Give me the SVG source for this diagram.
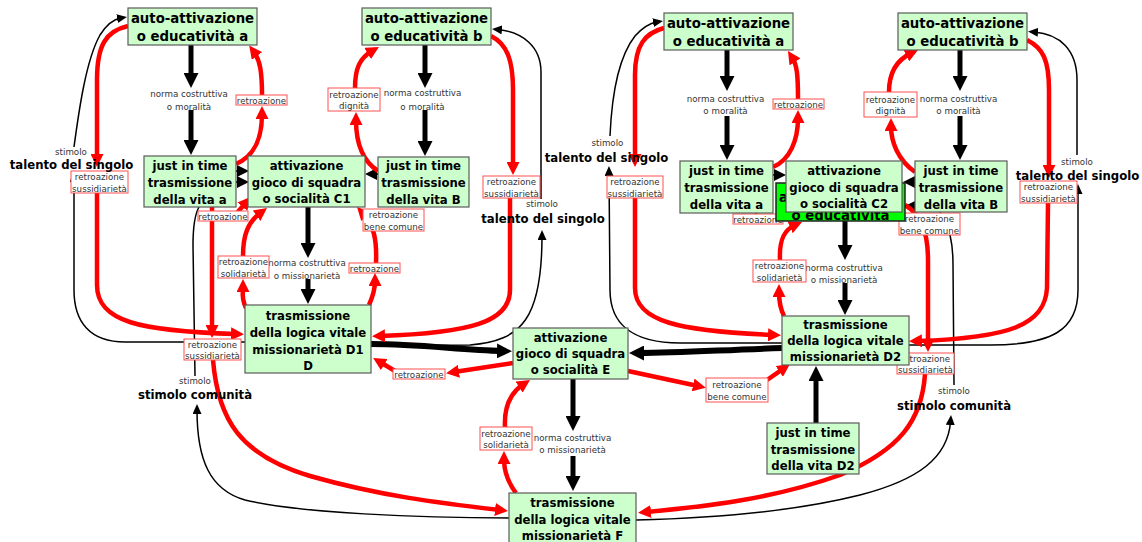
<svg xmlns="http://www.w3.org/2000/svg" width="1142" height="542" viewBox="0 0 1142 542">
<style>
  .node rect { fill: #ccffcc; stroke: #5a5a5a; stroke-width: 1.2; }
  .node.hot rect { fill: #00ff00; stroke: #222; stroke-width: 1.5; }
  .nt { font-family: "DejaVu Sans", Verdana, sans-serif; font-weight: bold; font-size: 11.7px; text-anchor: middle; fill: #000; }
  .nt.big { font-size: 13.3px; }
  .free { font-family: "DejaVu Sans", Verdana, sans-serif; font-weight: bold; font-size: 11.7px; text-anchor: middle; fill: #000; }
  .st { font-family: "DejaVu Sans", Verdana, sans-serif; font-size: 8.7px; text-anchor: middle; fill: #333; }
  .lbl rect { fill: #fff; stroke: #ff5050; stroke-width: 1; }
  .red { fill: none; stroke: #ff0000; stroke-width: 4.5; marker-end: url(#mR); }
  .blk { fill: none; stroke: #000; stroke-width: 5; marker-end: url(#mK); }
  .blk6 { fill: none; stroke: #000; stroke-width: 6; marker-end: url(#mK); }
  .thin { fill: none; stroke: #000; stroke-width: 1.5; marker-end: url(#mT); }
  .thin0 { fill: none; stroke: #000; stroke-width: 1.5; }
  .sm { fill: none; stroke: #000; stroke-width: 2; marker-end: url(#mS); }
</style>
<defs>
  <marker id="mR" markerUnits="userSpaceOnUse" markerWidth="13" markerHeight="13" refX="5" refY="6.5" orient="auto">
    <path d="M0,0 L13,6.5 L0,13 z" fill="#ff0000"/>
  </marker>
  <marker id="mK" markerUnits="userSpaceOnUse" markerWidth="15" markerHeight="15" refX="5" refY="7.5" orient="auto">
    <path d="M0,0 L15,7.5 L0,15 z" fill="#000"/>
  </marker>
  <marker id="mT" markerUnits="userSpaceOnUse" markerWidth="10" markerHeight="9" refX="4" refY="4.5" orient="auto">
    <path d="M0,0 L10,4.5 L0,9 z" fill="#000"/>
  </marker>
  <marker id="mS" markerUnits="userSpaceOnUse" markerWidth="12" markerHeight="12" refX="6" refY="6" orient="auto">
    <path d="M0,0 L12,6 L0,12 z" fill="#000"/>
  </marker>
</defs>
<rect width="1142" height="542" fill="#fff"/>

<g id="connectors">
  <!-- thin black: stimolo links -->
  <path class="thin" d="M245,342 L125,342 C90,342 74,322 74,290 L74,178"/>
  <path class="thin" d="M74,147 C79,110 86,60 100,35 C107,24 115,19 121,18"/>
  <path class="thin" d="M372,346 L470,345 C522,341 542,318 542,236"/>
  <path class="thin" d="M541,199 L541,72 C541,46 522,32 498,29.5"/>
  <path class="thin0" d="M199,207 C194,216 193,228 193,245 L195,376"/>
  <path class="thin" d="M509,518 C420,518 300,513 245,500 C210,490 197,460 197,410"/>
  <path class="thin" d="M782,343 L680,343 C630,343 610,322 610,290 L609,172"/>
  <path class="thin" d="M610,136 C612,90 620,55 635,36 C643,27 651,23 657,22"/>
  <path class="thin" d="M909,345 L990,345 C1052,345 1078,330 1078,290 L1078,190"/>
  <path class="thin" d="M1077,155 L1077,80 C1077,50 1060,34 1034,32"/>
  <path class="thin0" d="M940,212 C950,228 953,243 953,265 L954,385"/>
  <path class="thin" d="M636,520 C720,518 800,510 860,495 C918,480 948,458 950.6,421"/>

  <!-- thick black: norma links and flows into E -->
  <path class="blk" d="M191,45 L191,78"/>
  <path class="blk" d="M191,110 L191,145"/>
  <path class="blk" d="M425,45 L425,78"/>
  <path class="blk" d="M425,110 L425,146"/>
  <path class="blk" d="M308,207 L308,248"/>
  <path class="blk" d="M308,279 L308,294"/>
  <path class="blk" d="M727,50 L727,81"/>
  <path class="blk" d="M727,116 L727,150"/>
  <path class="blk" d="M960,50 L960,81"/>
  <path class="blk" d="M960,116 L960,150"/>
  <path class="blk" d="M845,221 L845,250"/>
  <path class="blk" d="M845,283 L845,305"/>
  <path class="blk" d="M573,379 L573,421"/>
  <path class="blk" d="M573,456 L573,481"/>
  <path class="blk" d="M816,423 L816,376"/>
  <path class="blk6" d="M371,344 C420,344 460,350 502,351"/>
  <path class="blk6" d="M782,348 C720,350 680,353 639,353"/>

  <!-- small black arrows into the C nodes -->
  <path class="sm" d="M236,171 L243,171"/>
  <path class="sm" d="M236,182 L243,182"/>
  <path class="sm" d="M378,174 L371,174"/>
  <path class="sm" d="M773,175 L780,175"/>
  <path class="sm" d="M915,182 L909,182"/>
  <path class="sm" d="M915,206 L911,206"/>

  <!-- red feedback links, left cluster -->
  <path class="red" d="M236,164 C254,156 262,140 262,114"/>
  <path class="red" d="M262,95 C262,72 260,60 254,52"/>
  <path class="red" d="M128,26 C106,31 97,45 97,80 L97,159"/>
  <path class="red" d="M97,193 L97,285 C97,322 140,331 236,334"/>
  <path class="red" d="M491,36 C507,44 513,60 513,90 L513,167"/>
  <path class="red" d="M510,198 L510,290 C510,322 470,333 380,336"/>
  <path class="red" d="M378,171 C361,160 356,140 356,120"/>
  <path class="red" d="M355,88 C355,68 360,58 372,51"/>
  <path class="red" d="M369,305 C373,296 375,290 375,281"/>
  <path class="red" d="M376,263 C377,240 374,225 362.5,212.8"/>
  <path class="red" d="M246,308 C241,298 243,292 243,287"/>
  <path class="red" d="M243,256 C243,235 248,222 260.6,212.7"/>
  <path class="red" d="M236,214 L245.6,202.9"/>
  <path class="red" d="M212,207 L212,330"/>
  <path class="red" d="M213,360 C218,420 240,455 310,476 C380,496 440,503 500,510"/>

  <!-- red feedback links, right cluster -->
  <path class="red" d="M773,167 C790,160 798,140 798,118"/>
  <path class="red" d="M798,99 C798,75 797,65 792.3,57.7"/>
  <path class="red" d="M664,28 C645,33 635,45 635,75 L635,159"/>
  <path class="red" d="M635,198 L635,288 C635,322 680,331 773,335"/>
  <path class="red" d="M915,172 C898,160 891,142 891,126"/>
  <path class="red" d="M889,92 C889,72 897,60 910.8,53.4"/>
  <path class="red" d="M1027,40 C1043,48 1049,60 1049,90 L1049,170"/>
  <path class="red" d="M1048,203 L1047,288 C1045,325 1010,338 917,341"/>
  <path class="red" d="M905,205 C920,214 928,230 928,260 L928,344"/>
  <path class="red" d="M925,374 C922,420 900,450 840,475 C770,500 700,507 646,512"/>
  <path class="red" d="M784,316 C779,306 779,298 779,292"/>
  <path class="red" d="M780,260 C779,240 784,230 794.7,225.3"/>
  <path class="red" d="M756,204 L756,208"/>

  <!-- red feedback links around E and F -->
  <path class="red" d="M513,363 L454,372"/>
  <path class="red" d="M395,371 L380,362"/>
  <path class="red" d="M628,371 L698,386"/>
  <path class="red" d="M767,380 L783.4,368.6"/>
  <path class="red" d="M516,493 C507,481 504,470 504,459"/>
  <path class="red" d="M505,427 C504,407 510,393 523.3,384.4"/>
</g>

<g id="link-labels">
  <text class="st" x="189" y="97">norma costruttiva</text>
  <text class="st" x="189" y="110">o moralità</text>
  <text class="st" x="422.5" y="96">norma costruttiva</text>
  <text class="st" x="422.5" y="110">o moralità</text>
  <text class="st" x="725.5" y="102">norma costruttiva</text>
  <text class="st" x="725.5" y="114">o moralità</text>
  <text class="st" x="958.5" y="102">norma costruttiva</text>
  <text class="st" x="958.5" y="114">o moralità</text>
  <text class="st" x="307" y="266">norma costruttiva</text>
  <text class="st" x="307" y="279">o missionarietà</text>
  <text class="st" x="844" y="271">norma costruttiva</text>
  <text class="st" x="844" y="283">o missionarietà</text>
  <text class="st" x="572.5" y="441">norma costruttiva</text>
  <text class="st" x="572.5" y="453">o missionarietà</text>

  <text class="st" x="71" y="155">stimolo</text>
  <text class="st" x="542" y="207">stimolo</text>
  <text class="st" x="607.5" y="146">stimolo</text>
  <text class="st" x="1077" y="165">stimolo</text>
  <text class="st" x="195" y="384">stimolo</text>
  <text class="st" x="954" y="394">stimolo</text>

  <g class="lbl" id="lbl-retro-a"><rect x="236" y="95" width="51" height="10"/><text class="st" x="261.5" y="103.5">retroazione</text></g>
  <g class="lbl" id="lbl-suss-1"><rect x="71" y="171" width="57" height="22"/><text class="st" x="99.5" y="180">retroazione</text><text class="st" x="99.5" y="191.5">sussidiarietà</text></g>
  <g class="lbl" id="lbl-dign-b"><rect x="328" y="88" width="52" height="23"/><text class="st" x="354" y="97.5">retroazione</text><text class="st" x="354" y="108.5">dignità</text></g>
  <g class="lbl" id="lbl-suss-2"><rect x="483" y="176" width="57" height="22"/><text class="st" x="511.5" y="185">retroazione</text><text class="st" x="511.5" y="196.5">sussidiarietà</text></g>
  <g class="lbl" id="lbl-retro-c1a"><rect x="198" y="211" width="50" height="10"/><text class="st" x="223" y="219.5">retroazione</text></g>
  <g class="lbl" id="lbl-bene-1"><rect x="363" y="209" width="61" height="22"/><text class="st" x="393.5" y="218">retroazione</text><text class="st" x="393.5" y="229.5">bene comune</text></g>
  <g class="lbl" id="lbl-solid-1"><rect x="218" y="256" width="51" height="22"/><text class="st" x="243.5" y="265">retroazione</text><text class="st" x="243.5" y="276.5">solidarietà</text></g>
  <g class="lbl" id="lbl-retro-c1b"><rect x="349" y="263" width="51" height="10"/><text class="st" x="374.5" y="271.5">retroazione</text></g>
  <g class="lbl" id="lbl-suss-3"><rect x="184" y="339" width="57" height="21"/><text class="st" x="212.5" y="348">retroazione</text><text class="st" x="212.5" y="359">sussidiarietà</text></g>
  <g class="lbl" id="lbl-retro-e"><rect x="393" y="369" width="52" height="10"/><text class="st" x="419" y="377.5">retroazione</text></g>
  <g class="lbl" id="lbl-bene-e"><rect x="706" y="378" width="62" height="24"/><text class="st" x="737" y="388">retroazione</text><text class="st" x="737" y="399.5">bene comune</text></g>
  <g class="lbl" id="lbl-solid-e"><rect x="480" y="427" width="52" height="23"/><text class="st" x="506" y="436.5">retroazione</text><text class="st" x="506" y="447.5">solidarietà</text></g>
  <g class="lbl" id="lbl-retro-a2"><rect x="773" y="99" width="51" height="10"/><text class="st" x="798.5" y="107.5">retroazione</text></g>
  <g class="lbl" id="lbl-suss-4"><rect x="607" y="176" width="56" height="22"/><text class="st" x="635" y="185">retroazione</text><text class="st" x="635" y="196.5">sussidiarietà</text></g>
  <g class="lbl" id="lbl-dign-b2"><rect x="864" y="92" width="53" height="25"/><text class="st" x="890.5" y="102.5">retroazione</text><text class="st" x="890.5" y="113.5">dignità</text></g>
  <g class="lbl" id="lbl-suss-5"><rect x="1020" y="181" width="57" height="22"/><text class="st" x="1048.5" y="190">retroazione</text><text class="st" x="1048.5" y="201.5">sussidiarietà</text></g>
  <g class="lbl" id="lbl-retro-c2a"><rect x="733" y="214" width="50" height="10"/><text class="st" x="758" y="222.5">retroazione</text></g>
  <g class="lbl" id="lbl-bene-2"><rect x="899" y="213" width="61" height="22"/><text class="st" x="929.5" y="222">retroazione</text><text class="st" x="929.5" y="233.5">bene comune</text></g>
  <g class="lbl" id="lbl-solid-2"><rect x="753" y="260" width="53" height="22"/><text class="st" x="779.5" y="269">retroazione</text><text class="st" x="779.5" y="280.5">solidarietà</text></g>
  <g class="lbl" id="lbl-suss-6"><rect x="897" y="353" width="57" height="21"/><text class="st" x="925.5" y="362">retroazione</text><text class="st" x="925.5" y="373">sussidiarietà</text></g>
</g>

<!-- free concepts without boxes -->
<g id="talento-1"><text class="free" x="71.5" y="169">talento del singolo</text></g>
<g id="talento-2"><text class="free" x="543" y="223">talento del singolo</text></g>
<g id="talento-3"><text class="free" x="606.5" y="162">talento del singolo</text></g>
<g id="talento-4"><text class="free" x="1077.5" y="180">talento del singolo</text></g>
<g id="comunita-1"><text class="free" x="195" y="399">stimolo comunità</text></g>
<g id="comunita-2"><text class="free" x="954" y="410">stimolo comunità</text></g>

<!-- left cluster -->
<g class="node" id="auto-a"><rect x="128" y="8" width="129" height="37"/>
  <text class="nt big" x="192.5" y="23">auto-attivazione</text><text class="nt big" x="192.5" y="41">o educatività a</text></g>
<g class="node" id="auto-b"><rect x="362" y="8" width="129" height="37"/>
  <text class="nt big" x="426.5" y="23">auto-attivazione</text><text class="nt big" x="426.5" y="41">o educatività b</text></g>
<g class="node" id="vita-a"><rect x="144" y="156" width="92" height="51"/>
  <text class="nt" x="190" y="170">just in time</text><text class="nt" x="190" y="187">trasmissione</text><text class="nt" x="190" y="204">della vita a</text></g>
<g class="node" id="c1"><rect x="248" y="156" width="117" height="51"/>
  <text class="nt" x="306.5" y="170">attivazione</text><text class="nt" x="306.5" y="187">gioco di squadra</text><text class="nt" x="306.5" y="203">o socialità C1</text></g>
<g class="node" id="vita-b"><rect x="378" y="157" width="91" height="50"/>
  <text class="nt" x="423.5" y="170">just in time</text><text class="nt" x="423.5" y="187">trasmissione</text><text class="nt" x="423.5" y="204">della vita B</text></g>
<g class="node" id="d1"><rect x="245" y="305" width="126" height="68"/>
  <text class="nt" x="308" y="320">trasmissione</text><text class="nt" x="308" y="337">della logica vitale</text><text class="nt" x="308" y="354">missionarietà D1</text><text class="nt" x="308" y="370">D</text></g>

<!-- centre -->
<g class="node" id="e"><rect x="513" y="328" width="115" height="51"/>
  <text class="nt" x="570.5" y="342">attivazione</text><text class="nt" x="570.5" y="358">gioco di squadra</text><text class="nt" x="570.5" y="374">o socialità E</text></g>
<g class="node" id="f"><rect x="509" y="493" width="127" height="55"/>
  <text class="nt" x="572.5" y="507">trasmissione</text><text class="nt" x="572.5" y="524">della logica vitale</text><text class="nt" x="572.5" y="540">missionarietà F</text></g>

<!-- right cluster -->
<g class="node" id="auto-a2"><rect x="664" y="13" width="129" height="37"/>
  <text class="nt big" x="728.5" y="28">auto-attivazione</text><text class="nt big" x="728.5" y="46">o educatività a</text></g>
<g class="node" id="auto-b2"><rect x="898" y="13" width="129" height="37"/>
  <text class="nt big" x="962.5" y="28">auto-attivazione</text><text class="nt big" x="962.5" y="46">o educatività b</text></g>
<g class="node" id="vita-a2"><rect x="680" y="161" width="93" height="52"/>
  <text class="nt" x="726.5" y="175">just in time</text><text class="nt" x="726.5" y="192">trasmissione</text><text class="nt" x="726.5" y="209">della vita a</text></g>
<g class="node hot" id="auto-c2"><rect x="776" y="183" width="129" height="38"/>
  <text class="nt big" x="840.5" y="202">auto-attivazione</text><text class="nt big" x="840.5" y="220">o educatività</text></g>
<g class="node" id="c2"><rect x="786" y="161" width="116" height="51"/>
  <text class="nt" x="844" y="175">attivazione</text><text class="nt" x="844" y="192">gioco di squadra</text><text class="nt" x="844" y="208">o socialità C2</text></g>
<g class="node" id="vita-b2"><rect x="915" y="161" width="92" height="51"/>
  <text class="nt" x="961" y="175">just in time</text><text class="nt" x="961" y="192">trasmissione</text><text class="nt" x="961" y="209">della vita B</text></g>
<g class="node" id="d2"><rect x="782" y="316" width="127" height="49"/>
  <text class="nt" x="845.5" y="329">trasmissione</text><text class="nt" x="845.5" y="345">della logica vitale</text><text class="nt" x="845.5" y="361">missionarietà D2</text></g>
<g class="node" id="vita-d2"><rect x="767" y="423" width="92" height="51"/>
  <text class="nt" x="813" y="437">just in time</text><text class="nt" x="813" y="454">trasmissione</text><text class="nt" x="813" y="470">della vita D2</text></g>
</svg>
